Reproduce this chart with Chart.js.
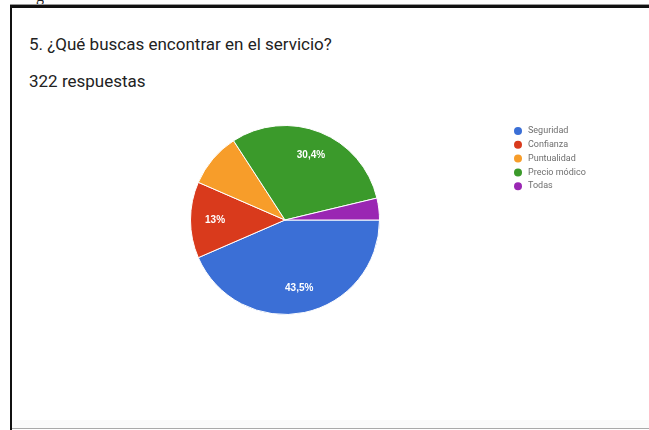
<!DOCTYPE html>
<html lang="es">
<head>
<meta charset="utf-8">
<title>5. ¿Qué buscas encontrar en el servicio?</title>
<script src="https://cdn.jsdelivr.net/npm/chart.js@4/dist/chart.umd.min.js"></script>
<style>
  html, body { margin: 0; padding: 0; background: #fff; }
  body { width: 649px; height: 430px; position: relative; overflow: hidden; font-family: Roboto, "Noto Sans", Arial, sans-serif; }
  #frameTop { position: absolute; left: 10px; top: 5px; right: 0; height: 3px; background: #111; box-shadow: 0 -1px 0 #999; }
  #frameLeft { position: absolute; left: 10px; top: 5px; width: 2px; bottom: 0; background: #111; }
  #frameBottom { position: absolute; left: 12px; right: 0; bottom: 1px; height: 1px; background: #aaa; }
  #bottomBand { position: absolute; left: 12px; right: 0; bottom: 2px; height: 8px; background: #fbfbfb; }
  #cut { position: absolute; left: 36px; top: 0; height: 4px; overflow: hidden; font-family: "Liberation Serif", serif; font-size: 16px; line-height: 16px; color: #222; }
  #cut span { display: block; margin-top: -12px; }
  #title { position: absolute; left: 29px; top: 34px; font-size: 17px; color: #222; white-space: nowrap; }
  #subtitle { position: absolute; left: 29px; top: 71px; font-size: 17px; color: #222; white-space: nowrap; }
  #chart { position: absolute; left: 0; top: 0; }
</style>
</head>
<body>
<div id="cut"><span>g</span></div>
<div id="bottomBand"></div>
<div id="frameTop"></div>
<div id="frameLeft"></div>
<div id="frameBottom"></div>
<div id="title">5. ¿Qué buscas encontrar en el servicio?</div>
<div id="subtitle">322 respuestas</div>
<canvas id="chart" width="649" height="430"></canvas>
<script>
// Answer options and number of responses for each (322 in total)
const categories = ['Seguridad', 'Confianza', 'Puntualidad', 'Precio módico', 'Todas'];
const responses = [140, 42, 30, 98, 12];
const sliceColors = ['#3b6fd6', '#d93a1c', '#f79d2a', '#3b9a2b', '#9a27b3'];

// Percentages with a decimal comma, dropping a trailing ",0"
function formatShare(value, total) {
  const pct = Math.round(value / total * 1000) / 10;
  return (Number.isInteger(pct) ? String(pct) : pct.toFixed(1)).replace('.', ',') + '%';
}

// White percentage text inside slices that are large enough
const sliceLabels = {
  id: 'sliceLabels',
  afterDatasetsDraw(chart) {
    const ds = chart.data.datasets[0];
    const total = ds.data.reduce((a, b) => a + b, 0);
    const meta = chart.getDatasetMeta(0);
    const ctx = chart.ctx;
    ctx.save();
    ctx.font = 'bold 10px Arial, "Liberation Sans", sans-serif';
    ctx.fillStyle = '#ffffff';
    ctx.textAlign = 'center';
    ctx.textBaseline = 'middle';
    meta.data.forEach((arc, i) => {
      const v = ds.data[i];
      if (v / total < 0.1) return;
      const p = arc.getProps(['x', 'y', 'startAngle', 'endAngle', 'outerRadius'], true);
      const mid = (p.startAngle + p.endAngle) / 2;
      const r = p.outerRadius * 0.74;
      ctx.fillText(formatShare(v, total), p.x + Math.cos(mid) * r, p.y + Math.sin(mid) * r);
    });
    ctx.restore();
  }
};

// Legend column to the right of the pie
const sideLegend = {
  id: 'sideLegend',
  afterDraw(chart, args, opts) {
    const ctx = chart.ctx;
    const colors = chart.data.datasets[0].backgroundColor;
    ctx.save();
    ctx.font = opts.fontSize + 'px Roboto, Arial, sans-serif';
    ctx.textBaseline = 'middle';
    ctx.textAlign = 'left';
    chart.data.labels.forEach((label, i) => {
      const y = opts.top + i * opts.step;
      ctx.beginPath();
      ctx.arc(opts.left, y, opts.dot, 0, Math.PI * 2);
      ctx.fillStyle = colors[i];
      ctx.fill();
      ctx.fillStyle = opts.color;
      ctx.fillText(label, opts.left + opts.gap, y);
    });
    ctx.restore();
  }
};

new Chart(document.getElementById('chart'), {
  type: 'pie',
  data: {
    labels: categories,
    datasets: [{
      data: responses,
      backgroundColor: sliceColors,
      borderColor: '#ffffff',
      borderWidth: 1
    }]
  },
  options: {
    responsive: false,
    animation: false,
    rotation: 90,
    layout: { padding: { left: 190, top: 124, right: 269, bottom: 114 } },
    plugins: {
      legend: { display: false },
      tooltip: { enabled: false },
      sideLegend: { left: 518, top: 131, step: 13.8, dot: 4, gap: 10, fontSize: 9, color: '#6f6f6f' }
    }
  },
  plugins: [sliceLabels, sideLegend]
});
</script>
</body>
</html>
